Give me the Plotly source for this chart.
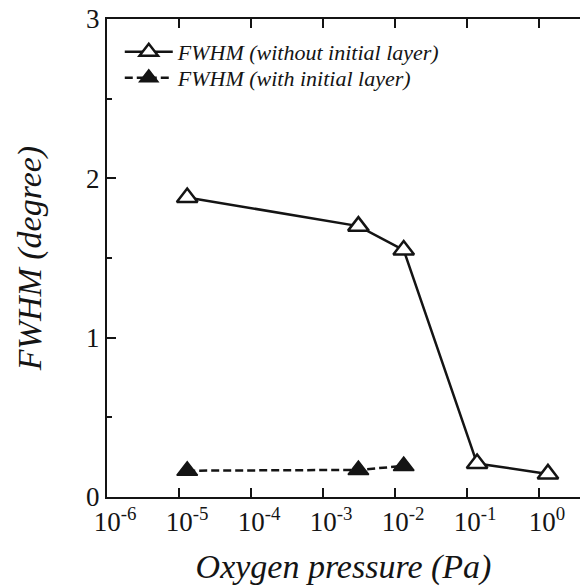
import plotly.graph_objects as go

# FWHM of the rocking curve versus oxygen partial pressure during growth
pressure_without = [1.3e-5, 3.1e-3, 1.32e-2, 1.38e-1, 1.33]
fwhm_without = [1.88, 1.70, 1.55, 0.21, 0.145]

pressure_with = [1.3e-5, 3.1e-3, 1.32e-2]
fwhm_with = [0.165, 0.17, 0.195]

x_tick_vals = [1e-6, 1e-5, 1e-4, 1e-3, 1e-2, 1e-1, 1e0]
x_tick_text = ["10<sup>-6</sup>", "10<sup>-5</sup>", "10<sup>-4</sup>", "10<sup>-3</sup>",
               "10<sup>-2</sup>", "10<sup>-1</sup>", "10<sup>0</sup>"]
y_tick_vals = [0, 1, 2, 3]

INK = "#141414"
SERIF = "'Times New Roman', 'Liberation Serif', serif"

fig = go.Figure()

fig.add_trace(go.Scatter(
    x=pressure_without, y=fwhm_without,
    mode="lines+markers",
    name="FWHM (without initial layer)",
    line=dict(color=INK, width=2.5),
    marker=dict(symbol="triangle-up", size=18, color="white",
                line=dict(color=INK, width=2.5)),
    legend="legend",
))

fig.add_trace(go.Scatter(
    x=pressure_with, y=fwhm_with,
    mode="lines+markers",
    name="FWHM (with initial layer)",
    line=dict(color=INK, width=2.5, dash="8px,4px"),
    marker=dict(symbol="triangle-up", size=18, color=INK,
                line=dict(color=INK, width=1.5)),
    legend="legend2",
))

legend_common = dict(
    x=0.027, xanchor="left", yanchor="middle",
    bgcolor="rgba(0,0,0,0)", borderwidth=0,
    itemwidth=48,
    font=dict(family=SERIF, size=22, color=INK, style="italic"),
)

fig.update_layout(
    width=580, height=587,
    margin=dict(l=107, r=0, t=19, b=90),
    paper_bgcolor="white", plot_bgcolor="white",
    showlegend=True,
    legend=dict(y=(497 - 52) / 478, **legend_common),
    legend2=dict(y=(497 - 78) / 478, **legend_common),
    xaxis=dict(
        type="log", range=[-6, 0.569],
        tickvals=x_tick_vals, ticktext=x_tick_text,
        ticks="inside", ticklen=9, tickwidth=2, tickcolor=INK,
        ticklabelshift=8,
        showline=True, linewidth=2, linecolor=INK, mirror="ticks",
        showgrid=False, zeroline=False,
        tickfont=dict(family=SERIF, size=27, color=INK),
        title=dict(text="Oxygen pressure (Pa)", standoff=18,
                   font=dict(family=SERIF, size=34, color=INK, style="italic")),
        automargin=False,
    ),
    yaxis=dict(
        range=[0, 3], tickvals=y_tick_vals,
        ticks="inside", ticklen=9, tickwidth=2, tickcolor=INK,
        minor=dict(dtick=0.5, ticks="inside", ticklen=5, tickwidth=2,
                   tickcolor=INK, showgrid=False),
        showline=True, linewidth=2, linecolor=INK, mirror=False,
        showgrid=False, zeroline=False,
        tickfont=dict(family=SERIF, size=27, color=INK),
        title=dict(text="FWHM (degree)", standoff=34,
                   font=dict(family=SERIF, size=34, color=INK, style="italic")),
        automargin=False,
    ),
    yaxis2=dict(
        overlaying="y", side="right", anchor="x",
        range=[0, 3], tickvals=y_tick_vals,
        ticks="inside", ticklen=9, tickwidth=2, tickcolor=INK,
        minor=dict(dtick=0.5, ticks="inside", ticklen=5, tickwidth=2,
                   tickcolor=INK, showgrid=False),
        showline=False, showticklabels=False,
        showgrid=False, zeroline=False,
    ),
)

fig.write_html("out.html")
